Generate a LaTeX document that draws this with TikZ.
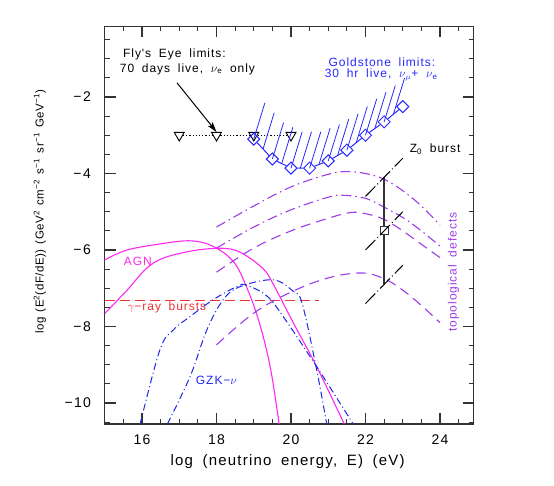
\documentclass[tikz,border=0pt]{standalone}
\usepackage{fontspec}
\newfontfamily\plotfont{Liberation Sans}[LetterSpace=8,WordSpace=1.8]
\newfontfamily\plotfonttight{Liberation Sans}[LetterSpace=4,WordSpace=1.5]
\usepackage{tikz}
\usetikzlibrary{shapes.geometric,arrows.meta}

\definecolor{agnmagenta}{RGB}{255,40,240}
\definecolor{gzkblue}{RGB}{30,40,230}
\definecolor{gsblue}{RGB}{40,40,255}
\definecolor{tdpurple}{RGB}{155,60,235}
\definecolor{grbred}{RGB}{240,50,50}

\tikzset{
  axisframe/.style={draw=black!80, line width=1.4pt},
  tickline/.style={draw=black!80, line width=1.2pt},
  ticklabel/.style={font=\plotfont\fontsize{14}{16}\selectfont, inner sep=1pt},
  axislabel/.style={font=\plotfont\fontsize{15}{17}\selectfont, inner sep=1pt},
  axislabeltight/.style={font=\plotfonttight\fontsize{11.5}{14}\selectfont, inner sep=1pt},
  annot/.style={font=\plotfont\fontsize{12}{14}\selectfont, inner sep=0pt},
  agncurve/.style={agnmagenta, line width=1.1pt},
  gzkcurve/.style={gzkblue, line width=1pt, dash pattern=on 7pt off 3pt on 1pt off 3pt},
  tddashdot/.style={tdpurple, line width=1.1pt, dash pattern=on 10pt off 4pt on 1.5pt off 4pt},
  tddashed/.style={tdpurple, line width=1.1pt, dash pattern=on 10pt off 6pt},
  grbline/.style={grbred, line width=1.1pt, dash pattern=on 10pt off 5pt},
  flymark/.style={draw=black, regular polygon, regular polygon sides=3,
    shape border rotate=180, minimum size=11.5pt, inner sep=0pt, line width=0.9pt},
  flydots/.style={black, line width=1pt, dash pattern=on 1.2pt off 2pt},
  flyarrow/.style={black, line width=1pt, -{Stealth[length=10pt, width=6pt, inset=2pt]}},
  goldmark/.style={draw=gsblue, rectangle, rotate=45, minimum size=8.5pt,
    inner sep=0pt, line width=1pt},
  goldline/.style={gsblue, line width=1pt},
  hatch/.style={gsblue, line width=0.8pt},
  zmark/.style={draw=black!80, rectangle, minimum size=8pt, inner sep=0pt, line width=1pt},
  zbar/.style={black!80, line width=1.3pt},
  zslant/.style={black, line width=1pt, dash pattern=on 14pt off 3pt on 1pt off 3pt},
}

\begin{document}
\begin{tikzpicture}[x=1pt, y=1pt]
\useasboundingbox (0,0) rectangle (554,485);

% data frame: x = log E from 15 to 24.9, y = log flux from -10.55 to -0.15
\begin{scope}[shift={(-454pt,464.5pt)}, x=37.25pt, y=38.25pt]

% frame and ticks
\draw[axisframe] (15,-10.55) rectangle (24.9,-0.15);
\foreach \x in {15.5,16,...,24.5} {
  \draw[tickline] (\x,-10.55) -- ++(0pt,5pt);
  \draw[tickline] (\x,-0.15) -- ++(0pt,-5pt);
}
\foreach \x in {16,18,...,24} {
  \draw[tickline] (\x,-10.55) -- ++(0pt,11pt);
  \draw[tickline] (\x,-0.15) -- ++(0pt,-11pt);
  \node[ticklabel] (xtick\x) at (\x,-10.97) {\x};
}
\foreach \y in {-10.5,-10,...,-0.5} {
  \draw[tickline] (15,\y) -- ++(5pt,0pt);
  \draw[tickline] (24.9,\y) -- ++(-5pt,0pt);
}
\foreach \y in {2,4,...,10} {
  \draw[tickline] (15,-\y) -- ++(11pt,0pt);
  \draw[tickline] (24.9,-\y) -- ++(-11pt,0pt);
  \node[ticklabel, anchor=east] (ytick\y) at (14.66,-\y) {−\kern1.5pt\y};
}

% axis titles
\node[axislabel] (xtitle) at (19.91,-11.52) {log (neutrino energy, E) (eV)};
\node[axislabeltight, rotate=90] (ytitle) at (13.26,-5.0)
  {log (E\textsuperscript{2}(dF/dE)) (GeV\textsuperscript{2} cm\textsuperscript{−2}
   s\textsuperscript{−1} sr\textsuperscript{−1} GeV\textsuperscript{−1})};

% gamma-ray bursts
\draw[grbline] (15,-7.33) -- (20.75,-7.33);
\node[annot, text=grbred] (grblabel) at (16.67,-7.49) {$\gamma$−ray bursts};

% AGN
\draw[agncurve] plot[smooth, tension=0.6] coordinates {
  (15,-6.26) (15.6,-6.0) (16.5,-5.84) (17.3,-5.76) (17.9,-5.9) (18.45,-6.3)
  (18.8,-6.95) (19.15,-7.9) (19.45,-9.1) (19.68,-10.55)};
\draw[agncurve] plot[smooth, tension=0.6] coordinates {
  (15,-7.66) (15.6,-7.05) (16.1,-6.5) (16.55,-6.22) (17.25,-6.04) (17.9,-5.96)
  (18.4,-5.98) (18.8,-6.15) (19.26,-6.5) (19.5,-6.85) (20.06,-7.9) (20.69,-9.05)
  (21.43,-10.55)};
\node[annot, text=agnmagenta] (agnlabel) at (15.89,-6.29) {AGN};

% GZK neutrinos
\draw[gzkcurve] plot[smooth, tension=0.6] coordinates {
  (15.95,-10.55) (16.48,-8.61) (16.84,-8.09) (17.29,-7.74) (17.91,-7.3)
  (18.54,-6.96) (18.8,-6.92) (19.35,-7.2) (19.79,-7.74) (20.69,-9.05) (21.67,-10.55)};
\draw[gzkcurve] plot[smooth, tension=0.6] coordinates {
  (16.68,-10.55) (17.29,-9.31) (17.74,-8.09) (18.18,-7.3) (18.63,-6.96)
  (19.52,-6.78) (20.06,-7.08) (20.3,-7.4) (20.69,-9.14) (20.96,-10.55)};
\node[annot, text=gzkblue] (gzklabel) at (18.0,-9.4) {GZK−$\nu$};

% topological defects
\draw[tddashdot] plot[smooth, tension=0.6] coordinates {
  (18,-5.4) (19,-4.85) (20,-4.35) (21,-4.02) (21.5,-3.95) (22,-4.0) (22.5,-4.15)
  (23,-4.45) (23.5,-4.85) (24,-5.35)};
\draw[tddashdot] plot[smooth, tension=0.6] coordinates {
  (18,-5.95) (19,-5.4) (20,-4.95) (21,-4.62) (21.4,-4.57) (22,-4.65) (22.5,-4.88)
  (23,-5.15) (23.5,-5.5) (24,-5.9)};
\draw[tddashed] plot[smooth, tension=0.6] coordinates {
  (18,-6.58) (19,-5.95) (20,-5.5) (21,-5.17) (21.6,-5.02) (22,-5.05) (22.5,-5.2)
  (23,-5.5) (23.5,-5.85) (24,-6.2)};
\draw[tddashed] plot[smooth, tension=0.6] coordinates {
  (18,-8.48) (19,-7.65) (20,-7.1) (21,-6.73) (21.9,-6.6) (22.5,-6.75) (23,-7.05)
  (23.5,-7.45) (24,-7.9)};
\node[annot, text=tdpurple, rotate=90] (tdlabel) at (24.36,-6.58) {topological defects};

% Z0 burst
\node[zmark] (zburst) at (22.5,-5.5) {};
\coordinate (ztop) at (22.5,-4.1);
\coordinate (zbot) at (22.5,-6.9);
\draw[zbar] (ztop) -- (zburst) -- (zbot);
\foreach \c in {ztop,zburst,zbot}
  \draw[zslant] (\c) ++(-0.5,-0.5) -- ++(1,1);
\node[annot] (zlabel) at (23.87,-3.36) {Z\textsubscript{0} burst};

% Fly's Eye limits
\foreach \x [count=\i] in {17,18,19,20}
  \node[flymark] (fly\i) at (\x,-3) {};
\draw[flydots] (fly1) -- (fly2) (fly2) -- (fly3) (fly3) -- (fly4);
\node[annot] (flytext1) at (16.87,-0.88) {Fly's Eye limits:};
\node[annot] (flytext2) at (17.22,-1.27) {70 days live, $\nu$\textsubscript{e} only};
\coordinate (flytail) at (16.94,-1.63);
\draw[flyarrow] (flytail) -- (fly2.north);

% Goldstone limits
\foreach \hx/\hy in {19/-3.1, 19.25/-3.36, 19.5/-3.62, 19.75/-3.74, 20/-3.86,
    20.25/-3.86, 20.5/-3.86, 20.75/-3.765, 21/-3.67, 21.25/-3.53, 21.5/-3.39,
    21.75/-3.195, 22/-3.0, 22.25/-2.825, 22.5/-2.65, 22.75/-2.45}
  \draw[hatch] (\hx,\hy) -- ++(0.3,0.95);
\foreach \x/\y [count=\i] in {19/-3.1, 19.5/-3.62, 20/-3.86, 20.5/-3.86, 21/-3.67,
    21.5/-3.39, 22/-3.0, 22.5/-2.65, 23/-2.25}
  \node[goldmark] (gold\i) at (\x,\y) {};
\foreach \i in {1,...,8} {
  \pgfmathtruncatemacro\j{\i+1}
  \draw[goldline] (gold\i) -- (gold\j);
}
\node[annot, text=gsblue] (goldtext1) at (22.44,-1.08) {Goldstone limits:};
\node[annot, text=gsblue] (goldtext2) at (22.42,-1.42)
  {30 hr live, $\nu$\textsubscript{$\mu$}+ $\nu$\textsubscript{e}};

\end{scope}
\end{tikzpicture}
\end{document}
